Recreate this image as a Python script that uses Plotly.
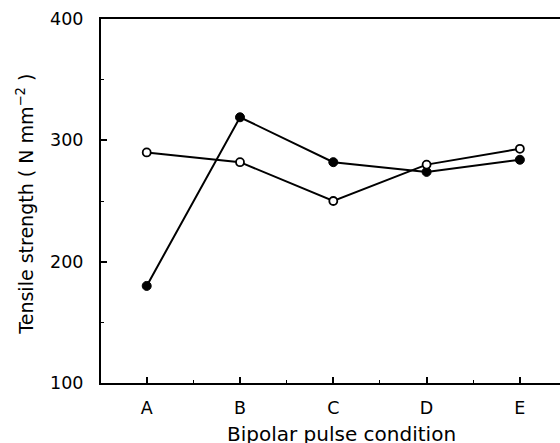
import plotly.graph_objects as go

conditions = ["A", "B", "C", "D", "E"]
filled_vals = [180, 319, 282, 274, 284]
open_vals = [290, 282, 250, 280, 293]
y_ticks = [100, 200, 300, 400]

xpos = list(range(len(conditions)))
FONT = "DejaVu Sans, Verdana, sans-serif"
NB = "\u00a0"

fig = go.Figure()
fig.add_trace(go.Scatter(
    x=xpos, y=filled_vals, mode="lines+markers",
    line=dict(color="black", width=2),
    marker=dict(symbol="circle", size=9, color="black", line=dict(color="black", width=1)),
    showlegend=False, cliponaxis=False))
fig.add_trace(go.Scatter(
    x=xpos, y=open_vals, mode="lines+markers",
    line=dict(color="black", width=2),
    marker=dict(symbol="circle", size=8, color="white", line=dict(color="black", width=1.8)),
    showlegend=False, cliponaxis=False))

fig.update_layout(
    width=560, height=443,
    margin=dict(l=101, r=0, t=19, b=60),
    paper_bgcolor="white", plot_bgcolor="white",
    font=dict(family=FONT, color="black", size=16),
    xaxis=dict(
        range=[-0.49, 4.43], tickvals=xpos, ticktext=conditions,
        showgrid=False, zeroline=False, showline=True, mirror=True,
        linecolor="black", linewidth=2,
        ticks="inside", ticklen=6, tickwidth=1.5, tickcolor="black",
        tickfont=dict(size=17.5), ticklabelstandoff=8,
        minor=dict(tick0=0, dtick=0.5, ticks="inside", ticklen=3, tickwidth=1, tickcolor="black", showgrid=False),
    ),
    yaxis=dict(
        range=[100, 400], tickvals=y_ticks,
        showgrid=False, zeroline=False, showline=True, mirror=False,
        linecolor="black", linewidth=2,
        ticks="inside", ticklen=6, tickwidth=1.5, tickcolor="black",
        tickfont=dict(size=17.5), ticklabelstandoff=12,
        minor=dict(tick0=0, dtick=50, ticks="inside", ticklen=3, tickwidth=1, tickcolor="black", showgrid=False),
    ),
    annotations=[
        dict(text="Bipolar pulse condition", xref="x", yref="paper", x=2.09, y=0,
             yshift=-51, showarrow=False, yanchor="middle", xanchor="center",
             font=dict(size=20, family=FONT)),
        dict(text="Tensile strength" + NB + "(" + NB + "N" + NB + "mm<sup>−2</sup>" + NB + ")",
             xref="paper", yref="paper",
             x=0, y=0.49, xshift=-76, textangle=-90, showarrow=False,
             xanchor="center", yanchor="middle", font=dict(size=19, family=FONT)),
    ],
)

fig.write_html("out.html")
